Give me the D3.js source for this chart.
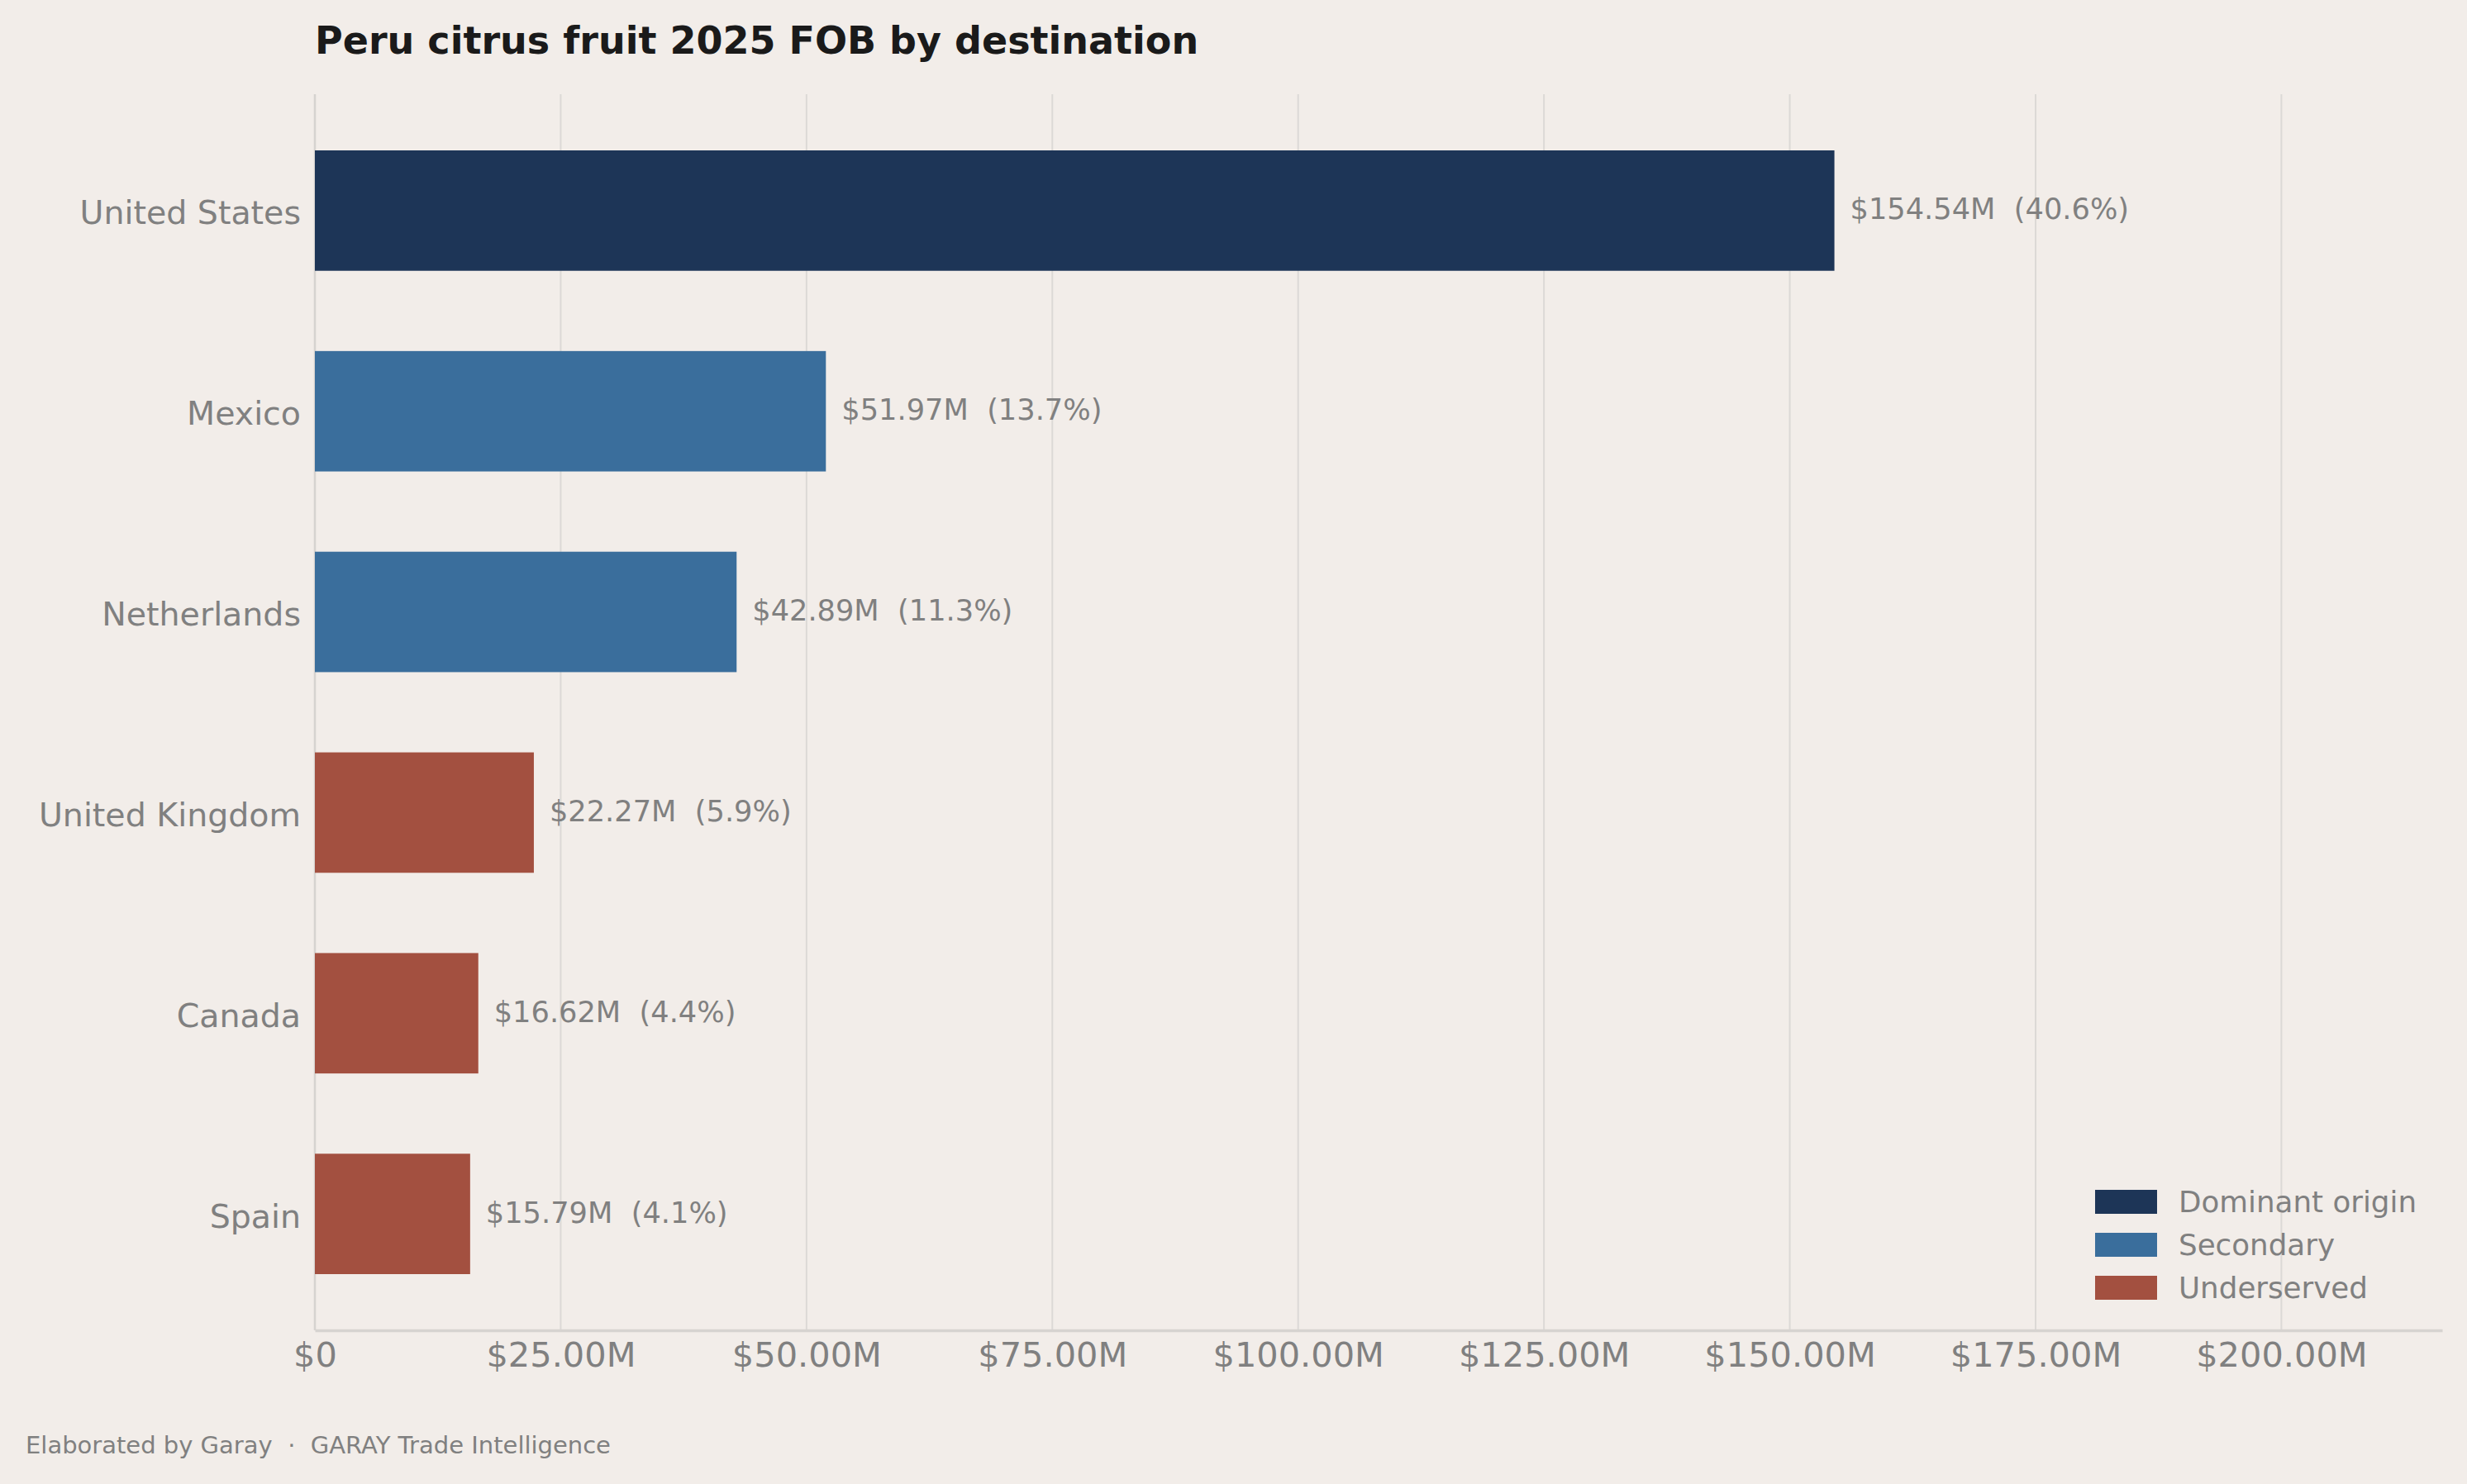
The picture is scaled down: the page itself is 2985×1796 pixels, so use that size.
<!DOCTYPE html>
<html>
<head>
<meta charset="utf-8">
<script src="https://cdn.jsdelivr.net/npm/d3@7"></script>
<style>
  body { margin: 0; background: #f2ede9; }
  svg { display: block; font-family: 'DejaVu Sans', sans-serif; }
</style>
</head>
<body>
<div id="chart-area"></div>
<script>
// data
const countries = ['United States', 'Mexico', 'Netherlands', 'United Kingdom', 'Canada', 'Spain']
const fobValues = [154.54, 51.97, 42.89, 22.27, 16.62, 15.79]
const shares = [40.6, 13.7, 11.3, 5.9, 4.4, 4.1]
const groups = ['Dominant origin', 'Secondary', 'Secondary', 'Underserved', 'Underserved', 'Underserved']
const legendLabels = ['Dominant origin', 'Secondary', 'Underserved']
const xTicks = [0, 25, 50, 75, 100, 125, 150, 175, 200]

const W = 2985, H = 1796
const margin = { left: 381, right: 30, top: 114, bottom: 186 }

const color = d3.scaleOrdinal()
    .domain(legendLabels)
    .range(['#1d3557', '#3a6e9c', '#a35040'])

const svg = d3.select('#chart-area').append('svg')
    .attr('width', W)
    .attr('height', H)

svg.append('rect').attr('width', W).attr('height', H).attr('fill', '#f2ede9')

const xScale = d3.scaleLinear()
    .domain([0, d3.max(fobValues) * 1.4])
    .range([margin.left, W - margin.right])

const yScale = d3.scaleBand()
    .domain(countries)
    .range([margin.top, H - margin.bottom])
    .paddingInner(0.4)
    .paddingOuter(0.28)

// gridlines
svg.append('g')
    .selectAll('line')
    .data(xTicks.slice(1))
    .enter().append('line')
    .attr('x1', d => xScale(d))
    .attr('x2', d => xScale(d))
    .attr('y1', margin.top)
    .attr('y2', H - margin.bottom)
    .attr('stroke', '#dcd9d6')
    .attr('stroke-width', 2)

// left spine
svg.append('line')
    .attr('x1', margin.left).attr('x2', margin.left)
    .attr('y1', margin.top).attr('y2', H - margin.bottom)
    .attr('stroke', '#d6d3d0')
    .attr('stroke-width', 2.5)

const rows = countries.map((c, i) => ({ c, v: fobValues[i], s: shares[i], g: groups[i] }))

svg.append('g')
    .selectAll('rect')
    .data(rows)
    .enter().append('rect')
    .attr('x', xScale(0))
    .attr('y', d => yScale(d.c))
    .attr('width', d => xScale(d.v) - xScale(0))
    .attr('height', yScale.bandwidth())
    .attr('fill', d => color(d.g))

svg.append('g')
    .selectAll('text')
    .data(rows)
    .enter().append('text')
    .attr('x', d => xScale(d.v) + 19)
    .attr('y', d => yScale(d.c) + yScale.bandwidth() / 2)
    .attr('dy', '0.3em')
    .attr('font-size', '35.2px')
    .attr('fill', '#808080')
    .attr('xml:space', 'preserve')
    .text(d => `$${d.v.toFixed(2)}M  (${d.s.toFixed(1)}%)`)

// y axis
const yAxisCall = d3.axisLeft(yScale).tickSize(0).tickPadding(17)
const yAxis = svg.append('g')
    .attr('transform', `translate(${margin.left}, 0)`)
    .call(yAxisCall)
yAxis.select('.domain').remove()
yAxis.selectAll('text')
    .attr('font-size', '39.5px')
    .attr('font-family', 'DejaVu Sans, sans-serif')
    .attr('fill', '#808080')
    .attr('dy', '0.42em')

// x axis
const xAxisCall = d3.axisBottom(xScale)
    .tickValues(xTicks)
    .tickSize(0)
    .tickPadding(15)
    .tickFormat(d => d === 0 ? '$0' : `$${d.toFixed(2)}M`)
const xAxis = svg.append('g')
    .attr('transform', `translate(0, ${H - margin.bottom})`)
    .call(xAxisCall)
xAxis.select('.domain')
    .attr('stroke', '#d6d3d0')
    .attr('stroke-width', 3.5)
xAxis.selectAll('text')
    .attr('font-size', '41.5px')
    .attr('font-family', 'DejaVu Sans, sans-serif')
    .attr('fill', '#808080')

// title
svg.append('text')
    .attr('x', margin.left)
    .attr('y', 65)
    .attr('font-size', '46px')
    .attr('font-weight', 'bold')
    .attr('fill', '#1a1a1a')
    .text('Peru citrus fruit 2025 FOB by destination')

// legend
const legend = svg.append('g')
    .attr('transform', 'translate(2535, 1440)')
const item = legend.selectAll('g')
    .data(legendLabels)
    .enter().append('g')
    .attr('transform', (d, i) => `translate(0, ${i * 52})`)
item.append('rect')
    .attr('width', 75)
    .attr('height', 29)
    .attr('fill', d => color(d))
item.append('text')
    .attr('x', 101)
    .attr('y', 14.5)
    .attr('dy', '0.35em')
    .attr('font-size', '35.7px')
    .attr('fill', '#808080')
    .text(d => d)

// footer
svg.append('text')
    .attr('x', 31)
    .attr('y', 1759)
    .attr('font-size', '29px')
    .attr('fill', '#808080')
    .attr('xml:space', 'preserve')
    .text('Elaborated by Garay  ·  GARAY Trade Intelligence')
</script>
</body>
</html>
